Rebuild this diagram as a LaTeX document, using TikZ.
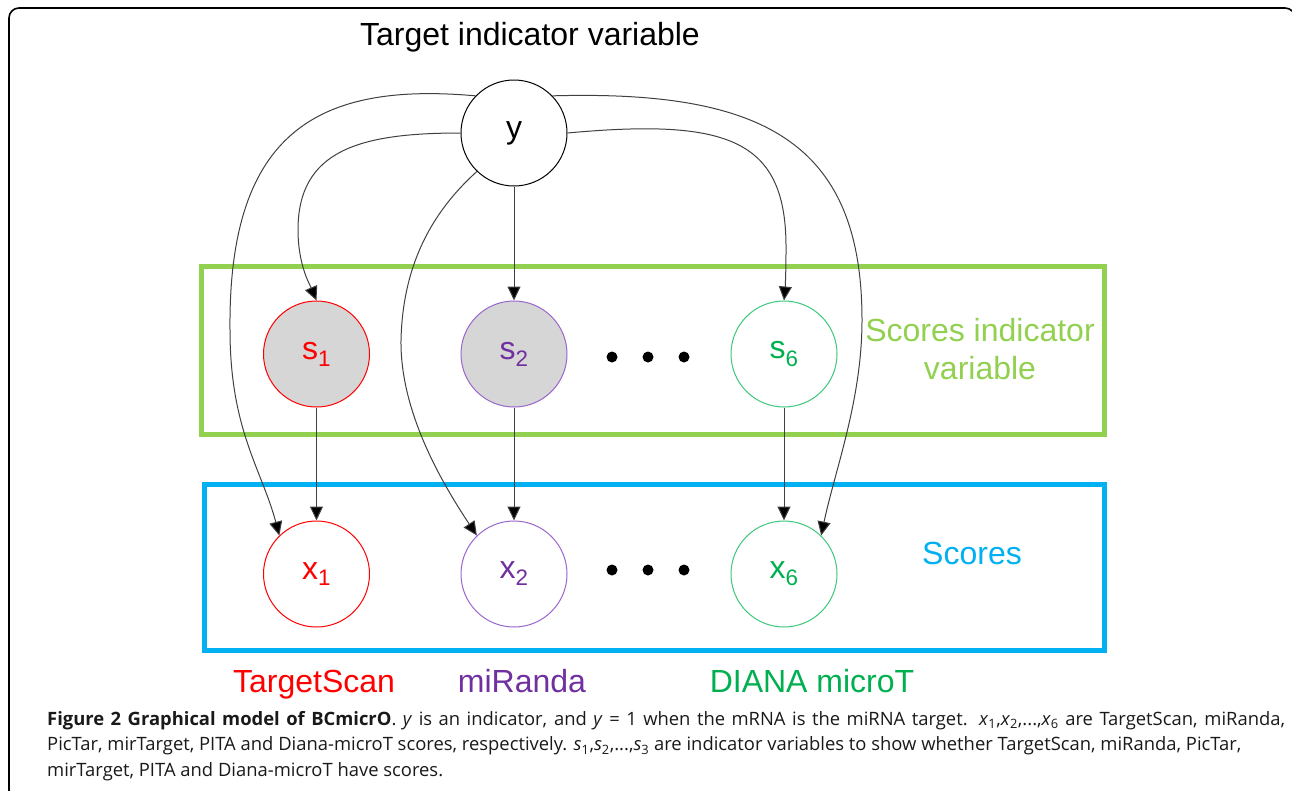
\documentclass[tikz,border=0pt]{standalone}
\usepackage{fontspec}
\setmainfont{Liberation Sans}
\newfontfamily\capfont{Open Sans}
\usetikzlibrary{arrows.meta}
\definecolor{cred}{HTML}{FF0000}
\definecolor{cpurple}{HTML}{7030A0}
\definecolor{cpurplel}{HTML}{9966CC}
\definecolor{cgreen}{HTML}{00B050}
\definecolor{cgreenl}{HTML}{3CC77A}
\definecolor{clgreen}{HTML}{92D050}
\definecolor{cblue}{HTML}{00B0F0}
\definecolor{cfill}{HTML}{D6D6D6}
\definecolor{cedge}{HTML}{404040}
\begin{document}
\begin{tikzpicture}[x=1pt,y=-1pt,
  var/.style={circle,draw,line width=1pt,minimum size=106pt,inner sep=0pt,
    font=\fontsize{32}{38}\selectfont},
  big/.style={font=\fontsize{32}{38}\selectfont,inner sep=0pt},
  edge/.style={draw=cedge,line width=1pt,-{Triangle[length=14pt,width=13pt,fill=black]}},
  dotn/.style={circle,fill=black,minimum size=11pt,inner sep=0pt},
  box/.style={line width=5pt}]
\useasboundingbox (0,0) rectangle (1292,790);
% frame
\draw[line width=1.6pt,rounded corners=10pt] (9,800) -- (9,8) -- (1295,8) -- (1295,40);
% title
\node[big] (title) at (530,37) {Target indicator variable};
% boxes
\draw[box,clgreen] (201,266) rectangle (1104,434);
\draw[box,cblue] (204,484) rectangle (1104,650);
% nodes
\node[var] (y) at (514,133) {y};
\node[var,draw=cred,fill=cfill,text=cred] (s1) at (316.5,354) {s\textsubscript{1}};
\node[var,draw=cpurplel,fill=cfill,text=cpurple] (s2) at (514,354) {s\textsubscript{2}};
\node[var,draw=cgreenl,text=cgreen] (s6) at (784,354) {s\textsubscript{6}};
\node[var,draw=cred,text=cred] (x1) at (316.5,574) {x\textsubscript{1}};
\node[var,draw=cpurplel,text=cpurple] (x2) at (514,574) {x\textsubscript{2}};
\node[var,draw=cgreenl,text=cgreen] (x6) at (784,574) {x\textsubscript{6}};
% dots
\node[dotn] (d1) at (612,357) {};
\node[dotn] (d2) at (648,357) {};
\node[dotn] (d3) at (684,357) {};
\node[dotn] (d4) at (612,570) {};
\node[dotn] (d5) at (648,570) {};
\node[dotn] (d6) at (684,570) {};
% labels
\node[big,text=clgreen,align=center] (lsiv) at (980,349) {Scores indicator\\variable};
\node[big,text=cblue] (lsc) at (972,553) {Scores};
\node[big,text=cred,anchor=base] (lts) at (314,692) {TargetScan};
\node[big,text=cpurple,anchor=base] (lmr) at (522,692) {miRanda};
\node[big,text=cgreen,anchor=base] (ldm) at (812,692) {DIANA microT};
% edges
\path[edge] (y) -- (s2);
\path[edge] (s1) -- (x1);
\path[edge] (s2) -- (x2);
\path[edge] (s6) -- (x6);
\path[edge] (y.west) .. controls (360,133) and (298,150) .. (298,230)
   .. controls (298,265) and (310,285) .. (s1.north);
\path[edge] (y.136) .. controls (320,82) and (228,130) .. (230,330)
   .. controls (230,430) and (262,470) .. (x1.134);
\path[edge] (y.226) .. controls (440,205) and (403,255) .. (401,340)
   .. controls (400,410) and (440,480) .. (x2.134);
\path[edge] (y.east) .. controls (730,118) and (787,140) .. (786,250)
   .. controls (786,275) and (785,290) .. (s6.north);
\path[edge] (y.44) .. controls (760,90) and (862,140) .. (862,320)
   .. controls (862,400) and (835,470) .. (x6.46);
% caption
\node[anchor=north west,inner sep=0pt,align=left,
  font=\capfont\fontsize{18.4}{25.5}\selectfont,text=black!90] (cap) at (47,711)
 {\makebox[1238pt][s]{\textbf{Figure 2 Graphical model of BCmicrO}. \textit{y} is an indicator, and \textit{y} = 1 when the mRNA is the miRNA target. \textit{x}\textsubscript{1},\textit{x}\textsubscript{2},...,\textit{x}\textsubscript{6} are TargetScan, miRanda,}\\
 PicTar, mirTarget, PITA and Diana-microT scores, respectively. \textit{s}\textsubscript{1},\textit{s}\textsubscript{2},...,\textit{s}\textsubscript{3} are indicator variables to show whether TargetScan, miRanda, PicTar,\\
 mirTarget, PITA and Diana-microT have scores.};
\end{tikzpicture}
\end{document}
